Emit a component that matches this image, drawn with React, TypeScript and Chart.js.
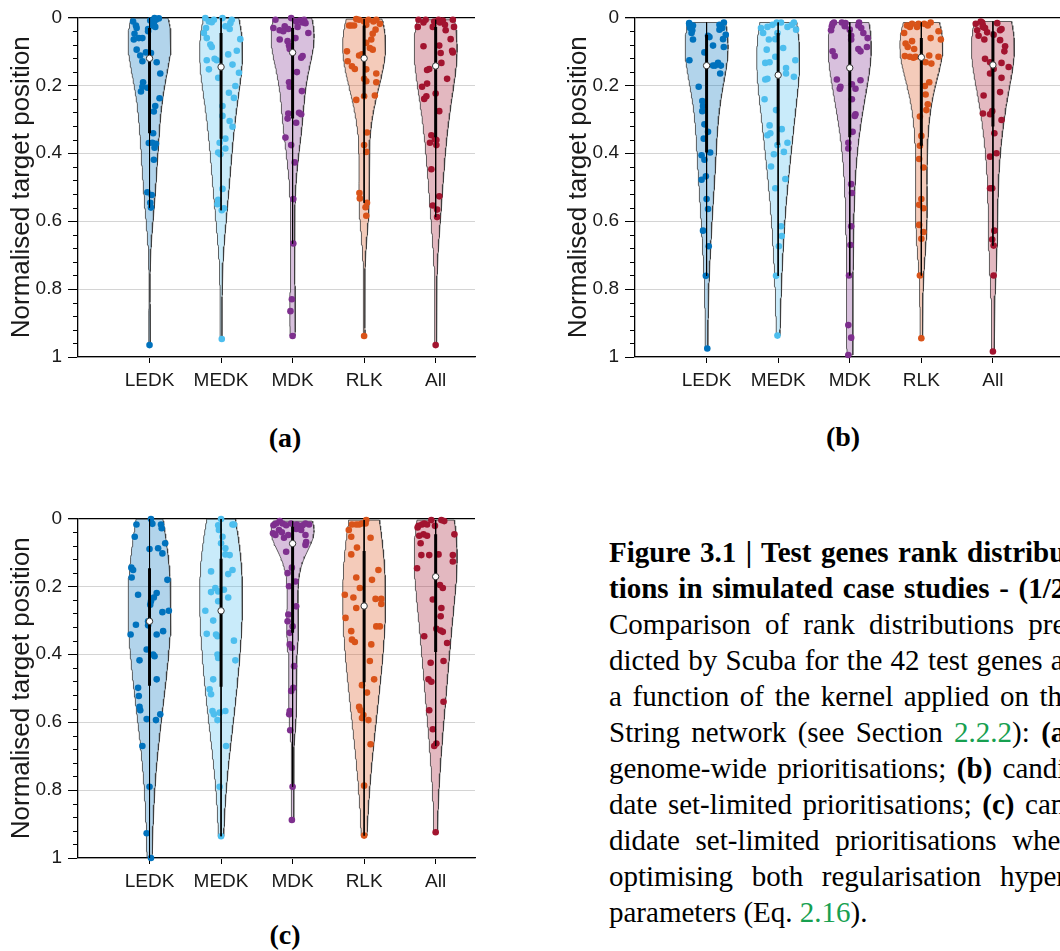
import React, { useEffect, useRef } from 'react';
import { Chart, registerables } from 'chart.js';

Chart.register(...registerables);

const categories = ['LEDK', 'MEDK', 'MDK', 'RLK', 'All'];
const pointColors = ['rgb(0,114,189)', 'rgb(77,190,238)', 'rgb(126,47,142)', 'rgb(217,83,25)', 'rgb(162,20,47)'];
const fillColors = ['rgba(0,114,189,0.3)', 'rgba(77,190,238,0.3)', 'rgba(126,47,142,0.3)', 'rgba(217,83,25,0.3)', 'rgba(162,20,47,0.3)'];
const yTickValues = [0, 0.2, 0.4, 0.6, 0.8, 1];
const yTickLabels = ['0', '0.2', '0.4', '0.6', '0.8', '1'];
const yMinorTicks = [0.04, 0.08, 0.12, 0.16, 0.24, 0.28, 0.32, 0.36, 0.44, 0.48, 0.52, 0.56, 0.64, 0.68, 0.72, 0.76, 0.84, 0.88, 0.92, 0.96];
const yTitle = 'Normalised target position';

// ---------- (a) genome-wide ----------
const aLEDK = [0.012,0.024,0.009,0.013,0.007,0.003,0.024,0.034,0.019,0.048,0.065,0.061,0.061,0.095,0.112,0.103,0.105,0.129,0.132,0.165,0.191,0.204,0.218,0.207,0.238,0.261,0.277,0.341,0.370,0.369,0.372,0.384,0.419,0.515,0.523,0.546,0.560,0.965,0.002,0.041,0.031,0.028];
const aLEDKj = [-0.23,-0.19,0.01,0.06,0.09,0.13,0.04,-0.02,0.06,-0.21,-0.22,-0.15,-0.10,-0.18,-0.13,-0.05,0.02,-0.10,0.10,0.15,-0.09,-0.10,-0.12,-0.03,0.14,0.08,0.06,0.05,-0.01,0.04,0.09,0.07,0.06,-0.03,0.03,0.01,0.02,0,0.07,-0.02,-0.18,0.08];
const aMEDK = [0.002,0.012,0.007,0.002,0.007,0.017,0.014,0.026,0.034,0.031,0.046,0.061,0.080,0.087,0.064,0.098,0.109,0.126,0.122,0.126,0.163,0.178,0.222,0.237,0.261,0.305,0.322,0.290,0.357,0.369,0.386,0.398,0.403,0.505,0.537,0.550,0.562,0.568,0.947,0.139,0.153,0.202];
const aMEDKj = [-0.22,-0.17,-0.10,0.02,0.15,0.13,-0.13,0.06,0.12,-0.21,-0.24,-0.20,-0.15,-0.13,0.27,0.22,0.10,-0.20,-0.09,-0.06,0.25,-0.04,0.11,0.18,0.02,0.12,0.16,0.02,0.06,-0.02,0.06,-0.04,-0.01,0.02,-0.04,-0.05,0.04,0.01,0.01,0.16,-0.17,0.20];
const aMDK = [0.031,0.007,0.026,0.038,0.041,0.034,0.065,0.070,0.002,0.012,0.009,0.015,0.007,0.017,0.028,0.061,0.046,0.083,0.093,0.114,0.119,0.161,0.191,0.217,0.204,0.283,0.298,0.281,0.285,0.310,0.354,0.376,0.427,0.535,0.666,0.830,0.865,0.938];
const aMDKj = [-0.28,-0.24,-0.11,-0.18,-0.13,-0.06,-0.18,-0.07,-0.02,0.05,0.10,0.14,0.16,0.18,0.07,0.04,0.22,-0.05,-0.04,0.14,0.12,0.06,-0.05,0.13,-0.04,-0.06,-0.07,0.09,0.12,0.05,-0.10,-0.02,0.03,0.01,0.01,-0.01,-0.03,0.00];
const aRLK = [0.024,0.024,0.024,0.005,0.007,0.012,0.022,0.007,0.012,0.007,0.019,0.036,0.048,0.065,0.075,0.090,0.095,0.100,0.129,0.144,0.152,0.112,0.109,0.153,0.165,0.191,0.181,0.188,0.232,0.230,0.243,0.339,0.376,0.396,0.517,0.533,0.546,0.559,0.584,0.938];
const aRLKj = [-0.21,-0.18,-0.14,-0.11,-0.07,0.00,0.03,0.06,0.13,0.17,0.22,0.16,0.12,0.10,0.03,0.08,0.12,-0.24,-0.23,-0.17,-0.13,-0.07,-0.03,0.03,0.17,0.17,0.00,0.03,0.00,0.15,-0.11,0.04,0.00,0.03,-0.07,-0.06,0.04,0.02,0.03,0.00];
const aAll = [0.028,0.015,0.007,0.007,0.028,0.012,0.007,0.015,0.009,0.022,0.007,0.028,0.038,0.064,0.083,0.085,0.105,0.134,0.103,0.098,0.155,0.152,0.181,0.195,0.204,0.232,0.240,0.224,0.276,0.347,0.369,0.359,0.376,0.361,0.447,0.527,0.554,0.566,0.588,0.965];
const aAllj = [-0.25,-0.17,-0.14,-0.24,-0.04,-0.02,0.04,0.06,0.10,0.13,0.24,0.27,0.14,0.21,0.05,-0.17,0.07,0.08,0.24,0.23,-0.12,-0.09,0.16,-0.12,-0.19,-0.13,-0.16,0.00,0.05,-0.06,-0.08,-0.01,0.01,0.01,-0.06,0.05,-0.04,0.02,0.02,0.00];

// ---------- (b) candidate set-limited ----------
const bLEDK = [0.022,0.031,0.038,0.046,0.065,0.017,0.054,0.058,0.022,0.031,0.015,0.051,0.064,0.083,0.087,0.103,0.134,0.142,0.142,0.142,0.126,0.165,0.204,0.246,0.261,0.276,0.315,0.337,0.357,0.398,0.406,0.419,0.468,0.478,0.535,0.564,0.628,0.674,0.761,0.975,0.036,0.024];
const bLEDKj = [-0.24,-0.23,-0.20,-0.21,-0.19,-0.26,0.02,0.04,0.18,0.22,0.25,0.29,0.23,0.09,0.24,-0.03,0.16,0.12,0.09,0.20,-0.24,0.19,-0.11,-0.06,-0.05,-0.06,-0.03,0.02,-0.04,0.05,-0.07,-0.03,-0.01,-0.07,0.00,0.02,-0.05,0.03,-0.01,0.01,0.18,-0.19];
const bMEDK = [0.031,0.046,0.028,0.022,0.015,0.015,0.028,0.015,0.036,0.046,0.064,0.095,0.134,0.132,0.116,0.149,0.126,0.165,0.175,0.183,0.181,0.241,0.273,0.318,0.347,0.341,0.329,0.376,0.369,0.396,0.403,0.439,0.503,0.476,0.615,0.644,0.674,0.761,0.937,0.022,0.065,0.090];
const bMEDKj = [-0.24,-0.21,-0.15,-0.08,-0.02,0.04,0.13,0.22,0.29,-0.01,-0.04,-0.16,-0.18,-0.12,-0.04,0.11,0.24,0.11,0.22,-0.18,-0.15,-0.19,-0.03,-0.12,-0.15,-0.11,0.05,-0.01,0.13,0.08,-0.06,-0.10,-0.04,0.10,0.04,0.05,0.01,-0.03,-0.01,0.19,-0.13,0.07];
const bMDK = [0.038,0.026,0.019,0.015,0.026,0.017,0.015,0.031,0.061,0.087,0.093,0.100,0.054,0.065,0.100,0.114,0.183,0.210,0.204,0.197,0.210,0.185,0.241,0.285,0.290,0.337,0.369,0.386,0.491,0.517,0.615,0.670,0.760,0.906,0.943,0.994,0.015,0.024,0.046,0.036];
const bMDKj = [-0.28,-0.25,-0.24,-0.11,-0.07,-0.06,0.13,0.16,0.25,0.24,0.12,0.15,0.02,0.02,-0.24,-0.21,-0.18,-0.14,-0.13,0.03,0.08,0.15,0.03,0.08,0.07,0.04,-0.02,-0.02,0.02,0.03,0.02,0.01,-0.01,-0.02,0.02,-0.02,-0.22,0.12,0.19,0.00];
const bRLK = [0.046,0.024,0.028,0.019,0.028,0.019,0.019,0.024,0.015,0.041,0.065,0.061,0.077,0.070,0.087,0.093,0.116,0.114,0.116,0.119,0.112,0.116,0.132,0.136,0.191,0.202,0.227,0.256,0.273,0.292,0.349,0.378,0.417,0.442,0.535,0.552,0.562,0.611,0.632,0.652,0.760,0.945];
const bRLKj = [-0.24,-0.20,-0.16,-0.13,-0.06,-0.04,0.04,0.09,0.13,0.24,0.28,0.13,-0.22,-0.13,-0.19,-0.10,-0.08,-0.23,-0.16,-0.11,0.11,0.24,0.06,0.14,0.11,0.05,0.06,0.09,0.07,-0.02,0.00,-0.02,-0.03,0.03,0.00,-0.03,0.03,-0.03,0.03,0.00,-0.02,0.00];
const bAll = [0.019,0.038,0.054,0.015,0.024,0.031,0.044,0.028,0.065,0.051,0.038,0.034,0.067,0.085,0.100,0.122,0.132,0.152,0.165,0.134,0.146,0.178,0.220,0.230,0.283,0.276,0.285,0.302,0.341,0.410,0.400,0.503,0.503,0.628,0.654,0.672,0.760,0.984,0.012,0.017];
const bAllj = [-0.24,-0.22,-0.20,-0.15,-0.14,-0.11,-0.08,-0.14,-0.12,0.01,0.10,0.12,0.10,0.17,0.16,-0.11,-0.04,0.01,-0.04,0.12,0.22,0.12,0.10,-0.13,-0.14,-0.01,-0.04,0.12,0.02,-0.04,0.05,-0.04,-0.01,0.02,-0.01,0.01,0.01,0.00,-0.17,0.06];

// ---------- (c) candidate set-limited, both hyper-parameters ----------
const cLEDK = [0.018,0.016,0.002,0.018,0.029,0.054,0.090,0.088,0.103,0.073,0.145,0.152,0.174,0.181,0.225,0.233,0.220,0.244,0.254,0.303,0.272,0.276,0.313,0.342,0.332,0.342,0.315,0.386,0.401,0.406,0.418,0.474,0.499,0.523,0.555,0.565,0.577,0.591,0.594,0.670,0.790,0.927,1.0];
const cLEDKj = [-0.21,0.04,0.02,0.16,0.17,-0.21,0.00,0.12,0.18,0.25,-0.29,-0.23,-0.25,0.25,-0.16,0.06,0.10,0.02,0.01,-0.02,0.27,0.18,-0.19,-0.28,0.19,0.10,-0.02,-0.04,0.05,0.07,-0.14,0.10,-0.16,-0.15,-0.14,-0.13,0.15,-0.04,0.09,-0.10,0.00,-0.04,0.02];
const cMEDK = [0.002,0.020,0.034,0.018,0.018,0.054,0.073,0.088,0.106,0.108,0.156,0.152,0.164,0.205,0.215,0.210,0.217,0.233,0.244,0.272,0.301,0.340,0.342,0.347,0.360,0.401,0.411,0.418,0.474,0.503,0.518,0.567,0.577,0.594,0.567,0.572,0.670,0.790,0.936];
const cMEDKj = [0.00,-0.04,-0.03,0.16,0.18,0.02,0.00,0.06,0.06,0.12,-0.14,0.16,0.10,-0.08,-0.04,0.04,-0.14,0.10,-0.04,-0.22,-0.11,-0.20,-0.07,-0.05,0.18,-0.05,-0.04,0.20,-0.11,-0.16,-0.14,-0.12,-0.10,-0.05,0.06,-0.02,0.07,-0.02,0.00];
const cMDK = [0.020,0.015,0.008,0.015,0.020,0.015,0.018,0.024,0.020,0.015,0.018,0.044,0.049,0.034,0.041,0.057,0.049,0.031,0.034,0.049,0.070,0.078,0.098,0.161,0.145,0.186,0.200,0.259,0.283,0.303,0.337,0.318,0.371,0.381,0.435,0.499,0.508,0.567,0.577,0.624,0.790,0.888];
const cMDKj = [-0.30,-0.23,-0.18,-0.14,-0.09,-0.02,0.06,0.09,0.14,0.18,0.23,-0.30,-0.24,-0.19,-0.15,-0.12,-0.06,0.05,0.12,0.18,0.19,0.18,-0.09,-0.07,-0.01,0.04,-0.05,0.05,-0.06,-0.07,-0.04,0.00,-0.04,-0.01,0.02,0.01,-0.02,-0.04,-0.05,-0.04,0.00,-0.01];
const cRLK = [0.018,0.018,0.018,0.015,0.015,0.005,0.034,0.054,0.057,0.086,0.106,0.152,0.174,0.181,0.205,0.225,0.233,0.237,0.237,0.252,0.264,0.293,0.318,0.318,0.332,0.357,0.364,0.371,0.420,0.474,0.491,0.513,0.555,0.565,0.579,0.594,0.588,0.665,0.787,0.934];
const cRLKj = [-0.17,-0.11,-0.07,-0.03,0.02,0.03,-0.23,-0.18,0.09,-0.10,-0.18,0.20,-0.11,0.11,-0.06,-0.27,-0.15,0.16,0.24,0.24,-0.11,-0.26,0.17,0.22,-0.18,-0.17,-0.13,0.10,0.08,0.14,-0.03,0.04,-0.07,-0.05,-0.01,0.06,-0.03,0.09,0.00,0.00];
const cAll = [0.027,0.022,0.018,0.015,0.018,0.005,0.022,0.005,0.008,0.051,0.047,0.051,0.073,0.047,0.108,0.108,0.106,0.108,0.127,0.147,0.196,0.205,0.239,0.264,0.288,0.347,0.325,0.330,0.334,0.367,0.425,0.420,0.474,0.481,0.540,0.565,0.621,0.670,0.663,0.924];
const cAllj = [-0.27,-0.24,-0.19,-0.16,-0.12,-0.06,-0.01,0.08,0.12,-0.23,-0.17,-0.12,-0.21,0.28,-0.20,-0.09,0.04,0.24,0.24,-0.26,0.06,0.10,-0.04,0.08,0.07,-0.16,0.01,0.07,0.10,0.16,-0.07,0.11,-0.10,-0.06,0.11,-0.09,-0.04,-0.02,0.01,0.00];

const panelA = [[aLEDK, aLEDKj], [aMEDK, aMEDKj], [aMDK, aMDKj], [aRLK, aRLKj], [aAll, aAllj]];
const panelB = [[bLEDK, bLEDKj], [bMEDK, bMEDKj], [bMDK, bMDKj], [bRLK, bRLKj], [bAll, bAllj]];
const panelC = [[cLEDK, cLEDKj], [cMEDK, cMEDKj], [cMDK, cMDKj], [cRLK, cRLKj], [cAll, cAllj]];

const SANS = '"Liberation Sans", Arial, Helvetica, sans-serif';
const SERIF = '"Liberation Serif", "Times New Roman", serif';
const BANDWIDTH_SCALE = 1.35;

function quantile(sorted: number[], p: number) {
  const n = sorted.length;
  const pos = p * n - 0.5;
  if (pos <= 0) return sorted[0];
  if (pos >= n - 1) return sorted[n - 1];
  const lo = Math.floor(pos);
  const f = pos - lo;
  return sorted[lo] * (1 - f) + sorted[lo + 1] * f;
}

function violinStats(values: number[]) {
  const s = [...values].sort((a, b) => a - b);
  const n = s.length;
  const med = quantile(s, 0.5);
  const q1 = quantile(s, 0.25);
  const q3 = quantile(s, 0.75);
  const iqr = q3 - q1;
  const lw = s.find((v) => v >= q1 - 1.5 * iqr) ?? s[0];
  const uw = [...s].reverse().find((v) => v <= q3 + 1.5 * iqr) ?? s[n - 1];
  const dev = s.map((v) => Math.abs(v - med)).sort((a, b) => a - b);
  let sig = quantile(dev, 0.5) / 0.6745;
  if (!(sig > 0)) sig = (s[n - 1] - s[0]) / 4 || 0.05;
  const h = BANDWIDTH_SCALE * sig * Math.pow(4 / (3 * n), 0.2);
  const steps = 160;
  const grid: { y: number; d: number }[] = [];
  for (let i = 0; i <= steps; i++) {
    const y = s[0] + ((s[n - 1] - s[0]) * i) / steps;
    let d = 0;
    for (const v of s) {
      const z = (y - v) / h;
      d += Math.exp(-0.5 * z * z);
    }
    grid.push({ y, d });
  }
  const maxd = Math.max(...grid.map((g) => g.d));
  const half = grid.map((g) => ({ y: g.y, w: (0.3 * g.d) / maxd }));
  return { med, q1, q3, lw, uw, half };
}

function widthAt(half: { y: number; w: number }[], v: number) {
  if (v <= half[0].y) return half[0].w;
  for (let i = 1; i < half.length; i++) {
    if (v <= half[i].y) {
      const a = half[i - 1];
      const b = half[i];
      const t = (v - a.y) / (b.y - a.y || 1);
      return a.w + (b.w - a.w) * t;
    }
  }
  return half[half.length - 1].w;
}

const minorTickPlugin = {
  id: 'minorTicks',
  afterDraw(chart: any) {
    const ys = chart.scales.y;
    const ctx = chart.ctx;
    ctx.save();
    ctx.strokeStyle = '#000';
    ctx.lineWidth = 1;
    ctx.beginPath();
    for (const v of yMinorTicks) {
      const p = Math.round(ys.getPixelForValue(v)) + 0.5;
      ctx.moveTo(ys.right - 5, p);
      ctx.lineTo(ys.right, p);
    }
    ctx.stroke();
    ctx.restore();
  },
};

function buildConfig(groups: number[][][], xMax: number): any {
  const datasets: any[] = [];
  groups.forEach(([values, jitter], i) => {
    const st = violinStats(values);
    const right = st.half.map((p) => ({ x: i + p.w, y: p.y }));
    const left = st.half.slice().reverse().map((p) => ({ x: i - p.w, y: p.y }));
    const outline = [...right, ...left, right[0]];
    datasets.push({
      type: 'scatter', data: outline, showLine: true, fill: 'shape',
      backgroundColor: fillColors[i], borderColor: '#3a3a3a', borderWidth: 0.8,
      pointRadius: 0, tension: 0, order: 5,
    });
    const pts = values.map((v, k) => {
      const lim = 0.92 * widthAt(st.half, v);
      const j = Math.max(-lim, Math.min(lim, jitter[k] ?? 0));
      return { x: i + j, y: v };
    });
    datasets.push({
      type: 'scatter', data: pts, pointRadius: 3.3, pointBackgroundColor: pointColors[i],
      pointBorderWidth: 0, order: 4, clip: false,
    });
    datasets.push({
      type: 'scatter', data: [{ x: i, y: st.lw }, { x: i, y: st.uw }], showLine: true,
      borderColor: '#000', borderWidth: 1, pointRadius: 0, order: 3,
    });
    datasets.push({
      type: 'scatter', data: [{ x: i, y: st.q1 }, { x: i, y: st.q3 }], showLine: true,
      borderColor: '#000', borderWidth: 3, pointRadius: 0, order: 2,
    });
    datasets.push({
      type: 'scatter', data: [{ x: i, y: st.med }], pointRadius: 3.2, pointBackgroundColor: '#fff',
      pointBorderColor: '#333', pointBorderWidth: 1, order: 1, clip: false,
    });
  });
  return {
    type: 'scatter',
    data: { datasets },
    plugins: [minorTickPlugin],
    options: {
      animation: false,
      responsive: false,
      events: [],
      layout: { padding: { left: 0, top: 16, right: 1, bottom: 3 } },
      plugins: { legend: { display: false }, tooltip: { enabled: false } },
      scales: {
        x: {
          type: 'linear', min: -1, max: xMax,
          afterBuildTicks: (s: any) => { s.ticks = categories.map((_, i) => ({ value: i })); },
          afterFit: (s: any) => { s.height = 40; },
          ticks: {
            callback: (v: number) => categories[Math.round(v)] ?? '',
            font: { family: SANS, size: 19 }, color: '#1a1a1a', padding: 6,
            maxRotation: 0, autoSkip: false,
          },
          grid: { drawOnChartArea: false, drawTicks: true, tickLength: 6, tickColor: '#000', color: '#000' },
          border: { display: true, color: '#000', width: 1.3 },
        },
        y: {
          type: 'linear', reverse: true, min: 0, max: 1,
          afterBuildTicks: (s: any) => { s.ticks = yTickValues.map((v) => ({ value: v })); },
          afterFit: (s: any) => { s.width = 78; },
          ticks: {
            callback: (_v: number, idx: number) => yTickLabels[idx],
            font: { family: SANS, size: 19 }, color: '#1a1a1a', padding: 6, autoSkip: false,
          },
          grid: {
            color: (ctx: any) => (ctx.tick && ctx.tick.value === 0 ? '#000' : '#d4d4d4'),
            lineWidth: (ctx: any) => (ctx.tick && ctx.tick.value === 0 ? 1.3 : 1),
            tickColor: '#000', tickLength: 10, drawTicks: true,
          },
          border: { display: true, color: '#000', width: 1.3 },
          title: {
            display: true, text: yTitle, color: '#1a1a1a',
            font: { family: SANS, size: 26 }, padding: { top: 6, bottom: 0 },
          },
        },
      },
    },
  };
}

function Panel({ groups, left, top, width, xMax }: { groups: number[][][]; left: number; top: number; width: number; xMax: number }) {
  const ref = useRef<HTMLCanvasElement>(null);
  useEffect(() => {
    const chart = new Chart(ref.current as HTMLCanvasElement, buildConfig(groups, xMax));
    return () => chart.destroy();
  }, []);
  return (
    <canvas ref={ref} width={width} height={400}
      style={{ position: 'absolute', left, top, width, height: 400 }} />
  );
}

type Run = { t: string; b?: boolean; g?: boolean };
const captionLines: Run[][] = [
  [{ t: 'Figure 3.1 | Test genes rank distribu-', b: true }],
  [{ t: 'tions in simulated case studies - (1/2)', b: true }],
  [{ t: 'Comparison of rank distributions pre-' }],
  [{ t: 'dicted by Scuba for the 42 test genes as' }],
  [{ t: 'a function of the kernel applied on the' }],
  [{ t: 'String network (see Section ' }, { t: '2.2.2', g: true }, { t: '): ' }, { t: '(a)', b: true }],
  [{ t: 'genome-wide prioritisations; ' }, { t: '(b)', b: true }, { t: ' candi-' }],
  [{ t: 'date set-limited prioritisations; ' }, { t: '(c)', b: true }, { t: ' can-' }],
  [{ t: 'didate set-limited prioritisations when' }],
  [{ t: 'optimising both regularisation hyper-' }],
  [{ t: 'parameters (Eq. ' }, { t: '2.16', g: true }, { t: ').' }],
];

const panelLabel = (text: string, cx: number, cy: number) => (
  <div style={{
    position: 'absolute', left: cx - 40, top: cy - 18, width: 80, height: 36, lineHeight: '36px',
    textAlign: 'center', fontFamily: SERIF, fontWeight: 'bold', fontSize: 28, color: '#000',
  }}>{text}</div>
);

export default function App() {
  return (
    <div style={{ position: 'fixed', left: 0, top: 0, width: 1060, height: 951, overflow: 'hidden', background: '#fff' }}>
      <Panel groups={panelA} left={0} top={0} width={480} xMax={4.55} />
      <Panel groups={panelB} left={557} top={0} width={510} xMax={4.965} />
      <Panel groups={panelC} left={0} top={501} width={480} xMax={4.55} />
      {panelLabel('(a)', 285, 438)}
      {panelLabel('(b)', 843, 437)}
      {panelLabel('(c)', 285, 935)}
      {captionLines.map((runs, k) => {
        const last = k === captionLines.length - 1;
        return (
          <div key={k} style={{
            position: 'absolute', left: 609, top: 534 + k * 36, width: 466, height: 36,
            lineHeight: '36px', fontFamily: SERIF, fontSize: 29, color: '#000', overflow: 'hidden',
            textAlign: last ? 'left' : 'justify', textAlignLast: last ? 'left' : 'justify',
          } as any}>
            {runs.map((r, i) => (
              <span key={i} style={{ fontWeight: r.b ? 'bold' : 'normal', color: r.g ? '#17a050' : '#000' }}>{r.t}</span>
            ))}
          </div>
        );
      })}
    </div>
  );
}
